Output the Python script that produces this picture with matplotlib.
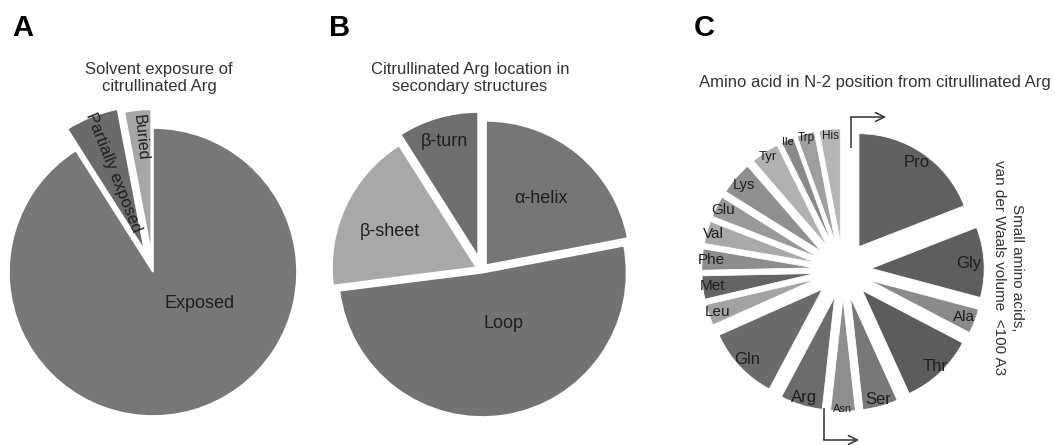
import matplotlib
matplotlib.use("Agg")
import matplotlib.pyplot as plt
import numpy as np

W, H = 1055, 445
plt.rcParams['font.family'] = ['Liberation Sans', 'DejaVu Sans']

# --- data -------------------------------------------------------------
exposure_labels = ["Exposed", "Partially exposed", "Buried"]
exposure_values = [91, 6, 3]

structure_labels = ["α-helix", "Loop", "β-sheet", "β-turn"]
structure_values = [22, 51, 18, 9]

residue_labels = ["Pro", "Gly", "Ala", "Thr", "Ser", "Asn", "Arg", "Gln", "Leu",
                  "Met", "Phe", "Val", "Glu", "Lys", "Tyr", "Ile", "Trp", "His"]
residue_values = [19, 10, 3.5, 10.5, 5, 3.5, 6, 10.5, 3, 3.3, 3, 3.2, 3, 4.7,
                  4, 1.8, 2.5, 3]

panel_titles = ["Solvent exposure of\ncitrullinated Arg",
                "Citrullinated Arg location in\nsecondary structures",
                "Amino acid in N-2 position from citrullinated Arg"]
side_note = "Small amino acids,\nvan der Waals volume  <100 A3"

# --- styling ----------------------------------------------------------
exposure_colors = ["#777777", "#6b6b6b", "#a6a6a6"]
structure_colors = ["#767676", "#737373", "#a8a8a8", "#6e6e6e"]
residue_colors = ["#616161", "#5e5e5e", "#8a8a8a", "#5c5c5c", "#787878", "#8e8e8e",
                  "#6c6c6c", "#6b6b6b", "#a3a3a3", "#646464", "#8c8c8c", "#a9a9a9",
                  "#999999", "#8f8f8f", "#b1b1b1", "#8a8a8a", "#9f9f9f", "#b5b5b5"]
TXT = "#1e1e1e"
TITLE = "#333333"

fig = plt.figure(figsize=(W / 100, H / 100), dpi=100)
ax = fig.add_axes([0, 0, 1, 1])


def pie(values, colors, cx, cy, r, explode, lw):
    wedges, _ = ax.pie(values, colors=colors, startangle=90, counterclock=False,
                       center=(cx, H - cy), radius=r,
                       explode=[e * r for e in explode],
                       wedgeprops=dict(edgecolor="white", linewidth=lw))
    return wedges


def spot(w, frac, dang=0.0):
    """Point inside a wedge: fraction of radius along its bisector,
    turned by dang degrees counter-clockwise."""
    th = np.deg2rad(0.5 * (w.theta1 + w.theta2) + dang)
    x0, y0 = w.center
    return x0 + frac * w.r * np.cos(th), y0 + frac * w.r * np.sin(th), \
        np.rad2deg(th)


# --- Panel A ----------------------------------------------------------
wa = pie(exposure_values, exposure_colors, 153, 272, 144, [0, 0.16, 0.13], 1.2)
a_lab = [(0.39, 40, 13, False), (0.58, 0, 12, True), (0.81, 0, 11.5, True)]
for w, lab, (f, d, fs, rot) in zip(wa, exposure_labels, a_lab):
    x, y, th = spot(w, f, d)
    ax.text(x, y, lab, ha="center", va="center", fontsize=fs, color=TXT,
            rotation=(th - 180) if rot else 0, rotation_mode="anchor")

# --- Panel B ----------------------------------------------------------
wb = pie(structure_values, structure_colors, 482, 270, 144,
         [0.045, 0.02, 0.045, 0.10], 1.0)
b_lab = [(0.6, 0), (0.38, 14), (0.65, 3), (0.83, 0)]
for w, lab, (f, d) in zip(wb, structure_labels, b_lab):
    x, y, _ = spot(w, f, d)
    ax.text(x, y, lab, ha="center", va="center", fontsize=13, color=TXT)

# --- Panel C ----------------------------------------------------------
wc = pie(residue_values, residue_colors, 843, 270, 113,
         [0.25] * len(residue_values), 0.6)
c_size = [12, 12, 11, 12, 12, 8, 12, 12, 11, 11, 11, 11, 11, 10.5, 9.5, 8, 8.5, 8.5]
c_frac = [0.9, 0.86, 0.9, 0.93, 0.94, 0.98, 0.93, 0.91, 0.92, 0.91, 0.92, 0.94,
          0.94, 0.9, 0.95, 0.98, 0.96, 0.94]
for w, lab, fs, f in zip(wc, residue_labels, c_size, c_frac):
    x, y, _ = spot(w, f)
    ax.text(x, y, lab, ha="center", va="center", fontsize=fs, color=TXT)

# bracket arrows marking the small residues
LC = "#333333"
for (x0, y0), (xc, yc), (x1, y1) in [((851, 148), (851, 117), (886, 117)),
                                     ((824, 408), (824, 440), (859, 440))]:
    ax.plot([x0, xc], [H - y0, H - yc], color=LC, lw=1.1, solid_capstyle="butt")
    ax.annotate("", xy=(x1, H - y1), xytext=(xc - 0.5, H - yc),
                arrowprops=dict(arrowstyle="->", color=LC, lw=1.1,
                                mutation_scale=16, shrinkA=0, shrinkB=0))
ax.text(1008, H - 268, side_note, rotation=-90, ha="center", va="center",
        multialignment="center", fontsize=11, color=TITLE, linespacing=1.3)

# --- titles and panel letters ----------------------------------------
ax.text(159, H - 78, panel_titles[0], ha="center", va="center", fontsize=12,
        color=TITLE, linespacing=1.2)
ax.text(470, H - 78, panel_titles[1], ha="center", va="center", fontsize=12,
        color=TITLE, linespacing=1.2)
ax.text(875, H - 83, panel_titles[2], ha="center", va="center", fontsize=12,
        color=TITLE)
for letter, x in zip("ABC", [12, 329, 694]):
    ax.text(x, H - 36, letter, ha="left", va="baseline", fontsize=21,
            fontweight="bold", color="black")

ax.set_xlim(0, W)
ax.set_ylim(0, H)
ax.set_aspect("equal")
ax.axis("off")
fig.savefig("out.png", dpi=100, facecolor="white")
